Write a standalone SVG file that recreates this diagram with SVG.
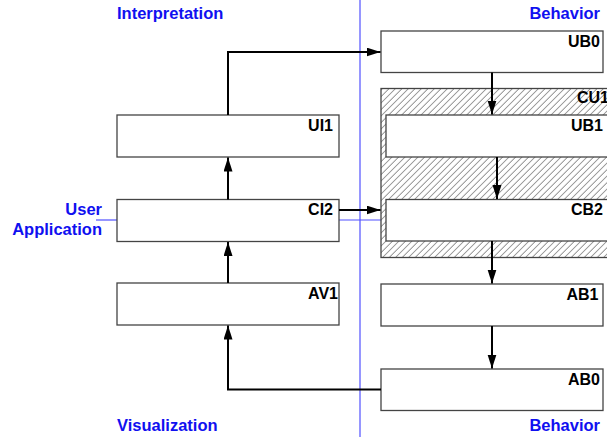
<svg xmlns="http://www.w3.org/2000/svg" width="607" height="444" viewBox="0 0 607 444">
<defs>
<style>
.box{fill:#fff;stroke:#444;stroke-width:1.3}
.lbl{font-family:"Liberation Sans",Arial,sans-serif;font-weight:bold;font-size:16px;fill:#000;text-anchor:end}
.lbl.start{text-anchor:start}
.blue{font-family:"Liberation Sans",Arial,sans-serif;font-weight:bold;font-size:16.5px;fill:#1010f0}
.conn{fill:none;stroke:#000;stroke-width:2}
.bl{fill:none;stroke:#5050ff;stroke-width:1.2}
</style>
<marker id="ah" markerUnits="userSpaceOnUse" markerWidth="15" markerHeight="10" refX="14" refY="4.5" orient="auto">
<path d="M0,0 L14,4.5 L0,9 z" fill="#000"/>
</marker>
<pattern id="hatch" patternUnits="userSpaceOnUse" width="6.5" height="13" patternTransform="skewX(-45)">
<rect width="6.5" height="13" fill="#fff"/>
<line x1="3" y1="0" x2="3" y2="13" stroke="#333" stroke-width="0.7"/>
</pattern>
</defs>
<rect width="607" height="444" fill="#fff"/>
<g id="guides">
<line class="bl" x1="360" y1="0" x2="360" y2="437"/>
<line class="bl" x1="96" y1="220" x2="117" y2="220"/>
<line class="bl" x1="339" y1="220" x2="381" y2="220"/>
</g>
<g id="titles">
<text class="blue" x="117" y="19">Interpretation</text>
<text class="blue" x="600" y="19" text-anchor="end">Behavior</text>
<text class="blue" x="117" y="431">Visualization</text>
<text class="blue" x="600" y="431" text-anchor="end">Behavior</text>
<text class="blue" x="102" y="215" text-anchor="end">User</text>
<text class="blue" x="102" y="235" text-anchor="end">Application</text>
</g>
<g id="CU1">
<rect x="381" y="88.5" width="240" height="169" fill="url(#hatch)" stroke="#444" stroke-width="1.3"/>
<text class="lbl start" x="577" y="103">CU1</text>
</g>
<g id="UI1"><rect class="box" x="117" y="115" width="222" height="42"/><text class="lbl" x="333" y="130.5">UI1</text></g>
<g id="CI2"><rect class="box" x="117" y="199.5" width="222" height="42"/><text class="lbl" x="333" y="215">CI2</text></g>
<g id="AV1"><rect class="box" x="117" y="283" width="222" height="42"/><text class="lbl" x="338" y="298.5">AV1</text></g>
<g id="UB0"><rect class="box" x="381" y="31" width="222" height="41.5"/><text class="lbl" x="600" y="46.5">UB0</text></g>
<g id="UB1"><rect class="box" x="386" y="115" width="240" height="42"/><text class="lbl" x="603" y="130.5">UB1</text></g>
<g id="CB2"><rect class="box" x="386" y="199.5" width="240" height="41.5"/><text class="lbl" x="603" y="215">CB2</text></g>
<g id="AB1"><rect class="box" x="381" y="284" width="222" height="42"/><text class="lbl" x="598.5" y="300">AB1</text></g>
<g id="AB0"><rect class="box" x="381" y="369" width="222" height="41.5"/><text class="lbl" x="600" y="385">AB0</text></g>
<g id="connectors">
<path class="conn" d="M228,283 V242" marker-end="url(#ah)"/>
<path class="conn" d="M228,199.5 V157.5" marker-end="url(#ah)"/>
<path class="conn" d="M228,115 V52 H380.5" marker-end="url(#ah)"/>
<path class="conn" d="M492,72.5 V114.5" marker-end="url(#ah)"/>
<path class="conn" d="M497,157 V199" marker-end="url(#ah)"/>
<path class="conn" d="M492,241 V283.5" marker-end="url(#ah)"/>
<path class="conn" d="M492,326 V368.5" marker-end="url(#ah)"/>
<path class="conn" d="M381,389.5 H228 V325.5" marker-end="url(#ah)"/>
<path class="conn" d="M339,210 H380.5" marker-end="url(#ah)"/>
</g>
</svg>
